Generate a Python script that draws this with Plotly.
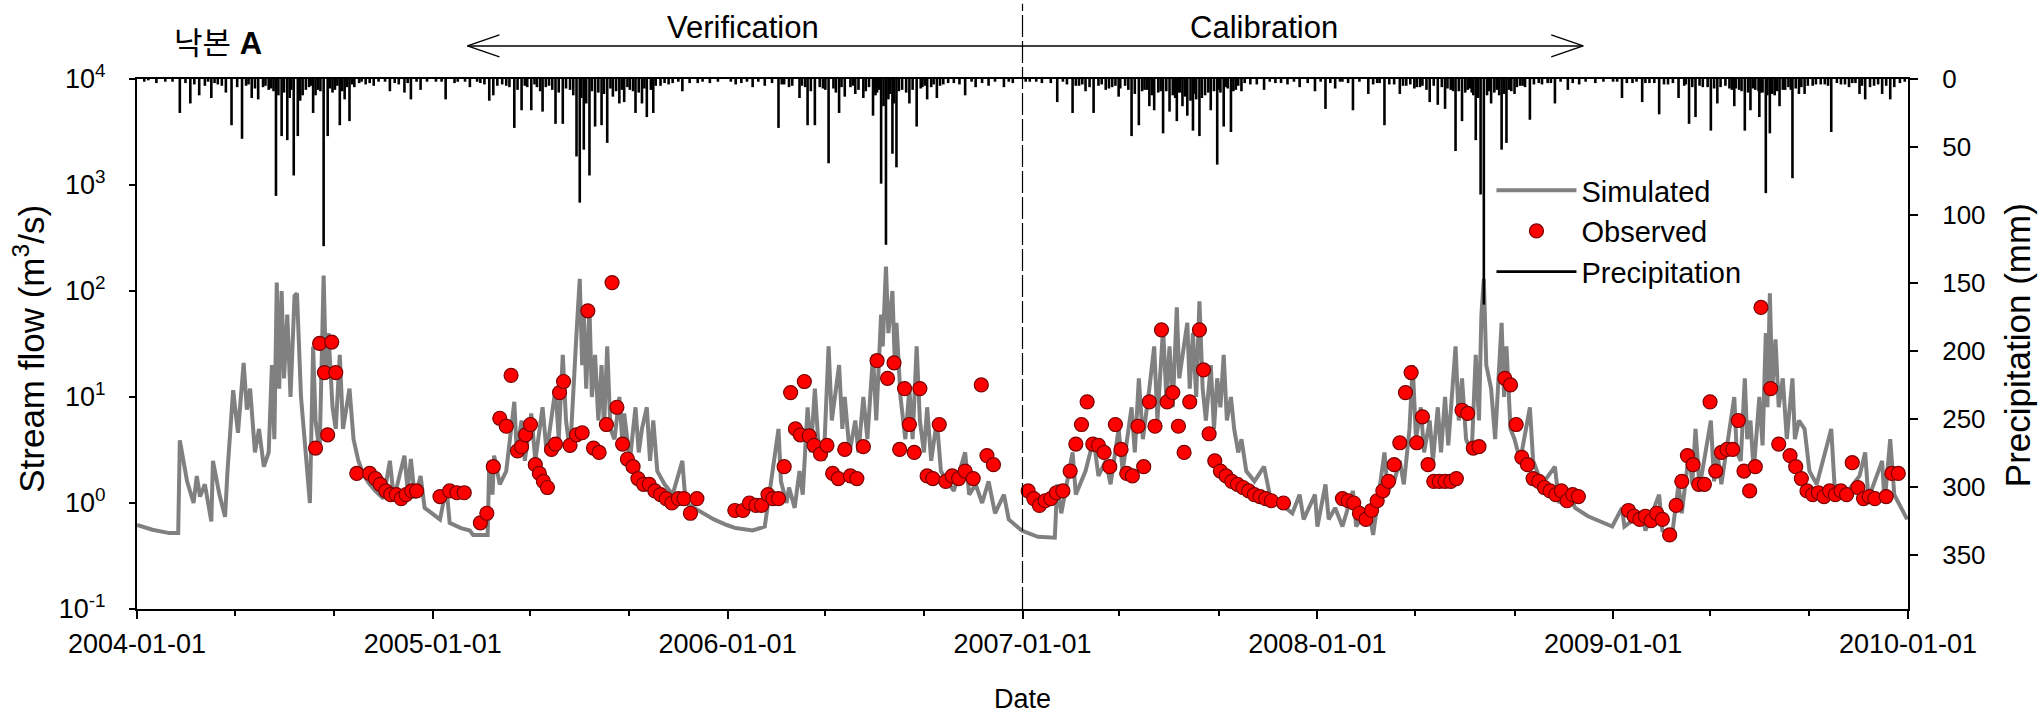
import plotly.graph_objects as go
import pandas as pd

# ---------------- data ----------------
sim_dates = [
 "2004-01-01","2004-01-20","2004-02-10","2004-02-21","2004-02-23","2004-03-03","2004-03-11","2004-03-15","2004-03-19","2004-03-25",
 "2004-04-02","2004-04-04","2004-04-12","2004-04-19","2004-04-22","2004-04-29","2004-05-05","2004-05-12","2004-05-16","2004-05-20",
 "2004-05-26","2004-05-31","2004-06-06","2004-06-12","2004-06-16","2004-06-19","2004-06-22","2004-06-25","2004-06-28","2004-07-01",
 "2004-07-05","2004-07-09","2004-07-14","2004-07-17","2004-07-22","2004-07-27","2004-08-02","2004-08-06","2004-08-09","2004-08-14",
 "2004-08-19","2004-08-22","2004-08-25","2004-08-30","2004-09-03","2004-09-08","2004-09-12","2004-09-20","2004-09-25","2004-10-01",
 "2004-10-08","2004-10-15","2004-10-22","2004-11-01","2004-11-09","2004-11-14","2004-11-27","2004-12-01","2004-12-05","2004-12-10",
 "2004-12-17","2004-12-22","2004-12-31",
 "2005-01-10","2005-01-18","2005-01-22","2005-02-05","2005-02-16","2005-02-20","2005-03-10","2005-03-12","2005-03-16","2005-03-18",
 "2005-03-25","2005-04-02","2005-04-12","2005-04-15","2005-04-21","2005-04-25","2005-05-03","2005-05-08","2005-05-17","2005-05-22",
 "2005-06-02","2005-06-06","2005-06-11","2005-06-15","2005-06-20","2005-06-28","2005-07-02","2005-07-05","2005-07-07","2005-07-10",
 "2005-07-14","2005-07-17","2005-07-21","2005-07-25","2005-07-29","2005-08-01","2005-08-05","2005-08-09","2005-08-14","2005-08-20",
 "2005-08-24","2005-08-26","2005-09-02","2005-09-09","2005-09-13","2005-09-17","2005-09-23","2005-09-27","2005-10-01","2005-10-06",
 "2005-10-15","2005-10-25","2005-11-06","2005-11-10","2005-11-20","2005-12-01","2005-12-15","2005-12-31",
 "2006-01-11","2006-02-01","2006-02-16","2006-03-05","2006-03-08","2006-03-15","2006-03-18","2006-03-25","2006-03-31","2006-04-04",
 "2006-04-10","2006-04-14","2006-04-19","2006-04-23","2006-04-30","2006-05-06","2006-05-10","2006-05-19","2006-05-23","2006-05-26",
 "2006-06-01","2006-06-08","2006-06-12","2006-06-18","2006-06-23","2006-06-30","2006-07-04","2006-07-10","2006-07-12","2006-07-16",
 "2006-07-19","2006-07-24","2006-07-27","2006-07-29","2006-08-03","2006-08-09","2006-08-14","2006-08-18","2006-08-23","2006-08-27",
 "2006-09-01","2006-09-05","2006-09-10","2006-09-17","2006-09-22","2006-09-30","2006-10-08","2006-10-22","2006-10-27","2006-11-04",
 "2006-11-12","2006-11-20","2006-11-28","2006-12-09","2006-12-15","2006-12-31",
 "2007-01-20","2007-02-10","2007-02-13","2007-02-18","2007-03-04","2007-03-08","2007-03-20","2007-03-30","2007-04-05","2007-04-14",
 "2007-04-20","2007-04-30","2007-05-05","2007-05-16","2007-05-20","2007-05-25","2007-05-30","2007-06-07","2007-06-13","2007-06-17",
 "2007-06-24","2007-06-28","2007-07-02","2007-07-06","2007-07-11","2007-07-14","2007-07-18","2007-07-24","2007-07-27","2007-07-31",
 "2007-08-04","2007-08-08","2007-08-12","2007-08-16","2007-08-22","2007-08-26","2007-08-30","2007-09-03","2007-09-07","2007-09-11",
 "2007-09-16","2007-09-20","2007-09-25","2007-09-29","2007-10-05","2007-10-15","2007-10-27","2007-11-03","2007-11-15","2007-12-01",
 "2007-12-10","2007-12-15","2007-12-29",
 "2008-01-01","2008-01-11","2008-01-15","2008-01-23","2008-02-01","2008-02-14","2008-02-18","2008-03-04","2008-03-10","2008-03-24",
 "2008-03-28","2008-04-05","2008-04-12","2008-04-17","2008-04-24","2008-04-28","2008-05-02","2008-05-08","2008-05-12","2008-05-19",
 "2008-05-23","2008-05-29","2008-06-02","2008-06-07","2008-06-11","2008-06-20","2008-06-24","2008-06-28","2008-07-03","2008-07-10",
 "2008-07-15","2008-07-19","2008-07-22","2008-07-25","2008-07-28","2008-08-03","2008-08-08","2008-08-16","2008-08-19","2008-08-22",
 "2008-08-27","2008-09-01","2008-09-08","2008-09-20","2008-09-24","2008-10-05","2008-10-21","2008-10-26","2008-11-06","2008-11-15",
 "2008-12-01","2008-12-31",
 "2009-01-12","2009-01-15","2009-02-06","2009-02-10","2009-02-27","2009-03-03","2009-03-15","2009-03-23","2009-03-27","2009-04-05",
 "2009-04-09","2009-04-13","2009-04-18","2009-05-02","2009-05-06","2009-05-10","2009-05-15","2009-05-31","2009-06-03","2009-06-08",
 "2009-06-13","2009-06-16","2009-06-20","2009-06-24","2009-07-01","2009-07-05","2009-07-09","2009-07-11","2009-07-14","2009-07-17",
 "2009-07-21","2009-07-25","2009-07-30","2009-08-04","2009-08-11","2009-08-14","2009-08-19","2009-08-26","2009-09-01","2009-09-10",
 "2009-09-28","2009-10-02","2009-10-15","2009-11-02","2009-11-09","2009-11-13","2009-11-30","2009-12-03","2009-12-10","2009-12-15",
 "2009-12-31",
]
sim_vals = [
 0.62,0.56,0.52,0.52,3.9,1.6,1.0,1.8,1.15,1.5,
 0.67,2.5,1.2,0.74,2.0,11.6,4.6,21,7.6,12,
 3.0,5.0,2.2,3.0,20,4,120,12,100,15,
 60,10,90,95,10,3.5,1.0,30,6,3,
 140,15,40,8,5,25,5,12,4,2.5,
 1.8,1.5,1.3,1.1,2.5,1.1,2.8,1.3,2.6,1.1,
 1.8,0.9,0.8,
 0.7,1.4,0.65,0.58,0.55,0.5,0.5,2.5,1.2,2.8,
 1.5,2.0,9,3,6,2.5,7,2.5,8,3,
 12,4,25,6,3,40,130,20,60,12,
 70,10,25,6,20,5,30,5,4,10,
 3.5,7,2.5,8,3,5,8,2.5,6,2,
 1.5,1.2,2.5,1.0,0.9,0.8,0.7,0.62,
 0.58,0.55,0.6,5,1.6,1.0,1.4,0.9,2.0,1.2,
 8,3,12,4,2.5,30,6,20,5,10,
 3,6,3,10,4,25,6,60,30,170,
 40,100,20,50,10,4,12,4,30,6,
 3,8,2.5,6,2,1.6,1.3,3,1.2,1.5,
 1.0,1.6,0.8,1.2,0.7,0.55,
 0.48,0.47,1.5,0.8,3,1.2,2,4,1.8,2.5,
 1.5,5,2,8,3,15,4,12,30,6,
 45,10,30,8,70,15,25,50,12,40,
 10,80,12,6,20,5,15,8,25,6,
 10,5,3,4,2,1.6,2.2,1.2,1.0,0.8,
 1.2,0.7,1.2,
 0.6,1.5,0.7,0.9,0.6,1.3,0.6,0.9,0.5,3,
 1.3,1.6,2.5,1.5,5,20,4,8,3,6,
 2.5,8,3,10,3.5,30,6,15,4,3,
 25,6,60,130,20,12,4,50,10,30,
 5,4,2.5,8,2.5,1.5,2.2,1.0,1.3,0.9,
 0.75,0.6,
 0.9,0.6,0.8,0.55,1.2,0.55,0.5,1.5,0.8,3,
 1.5,5,1.4,6,1.6,3,1.5,10,3,2.5,
 15,4,6,2,10,3.5,40,8,95,12,
 35,8,15,4,15,4,6,5,2,1.5,
 5,1.5,1.2,1.8,3,1.1,2.5,1.0,4,1.2,
 0.7,
]

obs_dates = [
 "2004-08-09","2004-08-14","2004-08-20","2004-08-24","2004-08-29","2004-09-03","2004-09-29","2004-10-15","2004-10-22","2004-10-28",
 "2004-11-04","2004-11-10","2004-11-17","2004-11-23","2004-11-29","2004-12-06","2004-12-12",
 "2005-01-10","2005-01-22","2005-01-31","2005-02-09","2005-03-01","2005-03-09","2005-03-17","2005-03-25","2005-04-02","2005-04-08",
 "2005-04-16","2005-04-21","2005-04-26","2005-05-02","2005-05-08","2005-05-13","2005-05-18","2005-05-23","2005-05-28","2005-06-02",
 "2005-06-07","2005-06-12","2005-06-20","2005-06-28","2005-07-05","2005-07-12","2005-07-19","2005-07-26","2005-08-04","2005-08-11",
 "2005-08-17","2005-08-24","2005-08-30","2005-09-06","2005-09-12","2005-09-19","2005-09-26","2005-10-03","2005-10-10","2005-10-17",
 "2005-10-24","2005-11-01","2005-11-08","2005-11-16","2005-11-24",
 "2006-01-10","2006-01-20","2006-01-28","2006-02-05","2006-02-12","2006-02-20","2006-02-26","2006-03-05","2006-03-12","2006-03-20",
 "2006-03-26","2006-04-01","2006-04-06","2006-04-12","2006-04-18","2006-04-26","2006-05-04","2006-05-11","2006-05-18","2006-05-26",
 "2006-06-02","2006-06-10","2006-06-18","2006-07-05","2006-07-18","2006-07-26","2006-08-02","2006-08-08","2006-08-14","2006-08-20",
 "2006-08-27","2006-09-05","2006-09-12","2006-09-20","2006-09-28","2006-10-06","2006-10-14","2006-10-22","2006-11-01","2006-11-11",
 "2006-11-18","2006-11-26",
 "2007-01-08","2007-01-15","2007-01-22","2007-01-29","2007-02-05","2007-02-12","2007-02-20","2007-03-01","2007-03-08","2007-03-15",
 "2007-03-22","2007-03-29","2007-04-05","2007-04-12","2007-04-19","2007-04-26","2007-05-03","2007-05-10","2007-05-17","2007-05-24",
 "2007-05-31","2007-06-07","2007-06-14","2007-06-22","2007-06-29","2007-07-06","2007-07-13","2007-07-20","2007-07-27","2007-08-08",
 "2007-08-13","2007-08-20","2007-08-27","2007-09-03","2007-09-10","2007-09-17","2007-09-24","2007-10-01","2007-10-08","2007-10-15",
 "2007-10-22","2007-10-29","2007-11-05","2007-11-20",
 "2008-02-01","2008-02-08","2008-02-15","2008-02-22","2008-03-01","2008-03-08","2008-03-15","2008-03-22","2008-03-29","2008-04-05",
 "2008-04-12","2008-04-19","2008-04-26","2008-05-03","2008-05-10","2008-05-17","2008-05-24","2008-05-31","2008-06-07","2008-06-14",
 "2008-06-21","2008-06-28","2008-07-05","2008-07-12","2008-07-19","2008-08-20","2008-08-27","2008-09-03","2008-09-10","2008-09-17",
 "2008-09-24","2008-10-01","2008-10-08","2008-10-15","2008-10-22","2008-10-29","2008-11-05","2008-11-12","2008-11-19",
 "2009-01-20","2009-01-27","2009-02-03","2009-02-10","2009-02-17","2009-02-24","2009-03-03","2009-03-12","2009-03-20","2009-03-27",
 "2009-04-03","2009-04-10","2009-04-17","2009-04-24","2009-05-01","2009-05-08","2009-05-15","2009-05-22","2009-05-29","2009-06-05",
 "2009-06-12","2009-06-19","2009-06-26","2009-07-03","2009-07-15","2009-07-25","2009-08-08","2009-08-15","2009-08-22","2009-08-29",
 "2009-09-05","2009-09-12","2009-09-19","2009-09-26","2009-10-03","2009-10-10","2009-10-17","2009-10-24","2009-10-31","2009-11-07",
 "2009-11-14","2009-11-21","2009-12-05","2009-12-12","2009-12-20",
]
obs_vals = [
 3.3,32,17,4.4,33,17,1.9,1.9,1.7,1.5,
 1.3,1.2,1.2,1.1,1.2,1.3,1.3,
 1.15,1.3,1.25,1.25,0.65,0.8,2.2,6.3,5.3,16,
 3.1,3.4,4.4,5.5,2.3,1.9,1.6,1.4,3.2,3.6,
 11,14,3.5,4.4,4.6,65,3.3,3.0,5.5,120,
 8,3.6,2.6,2.2,1.7,1.5,1.5,1.3,1.2,1.1,
 1.0,1.1,1.1,0.8,1.1,
 0.85,0.85,1.0,0.95,0.95,1.2,1.1,1.1,2.2,11,
 5,4.4,14,4.3,3.5,2.9,3.5,1.9,1.7,3.2,
 1.8,1.7,3.4,22,15,21,3.2,12,5.5,3.0,
 12,1.8,1.7,5.5,1.6,1.8,1.7,2.0,1.7,13,
 2.8,2.3,
 1.3,1.1,0.95,1.05,1.1,1.25,1.3,2.0,3.6,5.5,
 9,3.6,3.5,3.0,2.2,5.5,3.2,1.9,1.8,5.3,
 2.2,9,5.3,43,9,11,5.3,3.0,9,43,
 18,4.5,2.5,2.0,1.8,1.6,1.5,1.4,1.3,1.2,
 1.15,1.1,1.05,1.0,
 1.1,1.05,1.0,0.8,0.7,0.85,1.05,1.3,1.6,2.3,
 3.7,11,17,3.7,6.5,2.3,1.6,1.6,1.6,1.6,
 1.7,7.5,7.0,3.3,3.4,15,13,5.5,2.7,2.3,
 1.7,1.6,1.4,1.3,1.2,1.3,1.05,1.2,1.15,
 0.85,0.75,0.7,0.75,0.68,0.8,0.7,0.5,0.95,1.6,
 2.8,2.3,1.5,1.5,9,2.0,3.0,3.2,3.2,6,
 2.0,1.3,2.2,70,12,3.6,2.8,2.2,1.7,1.3,
 1.2,1.25,1.15,1.3,1.2,1.3,1.2,2.4,1.4,1.1,
 1.15,1.1,1.15,1.9,1.9,
]

pcp_dates = [
 "2004-01-10","2004-01-25","2004-02-05","2004-02-23","2004-03-07","2004-03-18","2004-03-25","2004-04-02","2004-04-10","2004-04-20",
 "2004-04-27","2004-05-10","2004-05-15","2004-05-22","2004-05-30","2004-06-05","2004-06-12","2004-06-15","2004-06-21","2004-06-28",
 "2004-07-01","2004-07-05","2004-07-13","2004-07-18","2004-07-24","2004-07-28","2004-08-01","2004-08-06","2004-08-12","2004-08-19",
 "2004-08-24","2004-08-30","2004-09-02","2004-09-08","2004-09-14","2004-09-20","2004-09-26","2004-10-02","2004-10-10","2004-10-20",
 "2004-11-09","2004-11-15","2004-11-27","2004-12-05","2004-12-17",
 "2005-01-05","2005-01-17","2005-02-01","2005-02-16","2005-03-01","2005-03-12","2005-03-17","2005-03-28","2005-04-02","2005-04-12",
 "2005-04-21","2005-04-28","2005-05-03","2005-05-10","2005-05-17","2005-05-25","2005-06-02","2005-06-11","2005-06-15","2005-06-20",
 "2005-06-28","2005-07-02","2005-07-07","2005-07-14","2005-07-21","2005-07-25","2005-07-29","2005-08-05","2005-08-12","2005-08-16",
 "2005-08-20","2005-08-26","2005-09-02","2005-09-09","2005-09-13","2005-09-17","2005-09-23","2005-09-28","2005-10-01","2005-10-10",
 "2005-10-15","2005-10-20","2005-11-06","2005-11-25","2005-12-10",
 "2006-01-11","2006-01-25","2006-02-01","2006-02-16","2006-02-25","2006-03-05","2006-03-12","2006-03-18","2006-03-31","2006-04-03",
 "2006-04-10","2006-04-19","2006-04-25","2006-05-06","2006-05-12","2006-05-19","2006-05-26","2006-06-02","2006-06-08","2006-06-18",
 "2006-06-25","2006-06-30","2006-07-01","2006-07-05","2006-07-10","2006-07-16","2006-07-24","2006-07-29","2006-08-05","2006-08-10",
 "2006-08-14","2006-08-23","2006-08-28","2006-09-05","2006-09-10","2006-09-17","2006-09-25","2006-10-08","2006-10-22","2006-11-04",
 "2006-11-20","2006-12-09","2006-12-20",
 "2007-01-10","2007-01-25","2007-02-13","2007-02-25","2007-03-04","2007-03-12","2007-03-20","2007-03-30","2007-04-05","2007-04-14",
 "2007-04-22","2007-04-30","2007-05-02","2007-05-08","2007-05-16","2007-05-25","2007-06-01","2007-06-07","2007-06-13","2007-06-18",
 "2007-06-24","2007-06-28","2007-07-02","2007-07-06","2007-07-11","2007-07-15","2007-07-18","2007-07-24","2007-07-31","2007-08-04",
 "2007-08-08","2007-08-15","2007-08-19","2007-08-22","2007-08-30","2007-09-03","2007-09-07","2007-09-12","2007-09-16","2007-09-22",
 "2007-09-29","2007-10-10","2007-10-27","2007-11-10","2007-11-25","2007-12-10","2007-12-29",
 "2008-01-11","2008-01-23","2008-02-01","2008-02-14","2008-03-04","2008-03-15","2008-03-24","2008-04-05","2008-04-12","2008-04-20",
 "2008-04-30","2008-05-03","2008-05-10","2008-05-19","2008-05-29","2008-06-03","2008-06-07","2008-06-14","2008-06-20","2008-06-24",
 "2008-06-28","2008-07-05","2008-07-10","2008-07-15","2008-07-21","2008-07-25","2008-07-29","2008-08-03","2008-08-07","2008-08-10",
 "2008-08-16","2008-08-22","2008-08-28","2008-09-01","2008-09-08","2008-09-14","2008-09-20","2008-10-05","2008-10-12","2008-10-21",
 "2008-11-06","2008-11-20","2008-12-10",
 "2009-01-01","2009-01-12","2009-01-25","2009-02-06","2009-02-15","2009-02-27","2009-03-10","2009-03-23","2009-03-30","2009-04-05",
 "2009-04-13","2009-04-22","2009-04-28","2009-05-02","2009-05-10","2009-05-20","2009-05-25","2009-05-31","2009-06-06","2009-06-13",
 "2009-06-20","2009-06-26","2009-06-30","2009-07-01","2009-07-05","2009-07-09","2009-07-14","2009-07-20","2009-07-26","2009-07-30",
 "2009-08-02","2009-08-06","2009-08-11","2009-08-19","2009-08-26","2009-09-05","2009-09-15","2009-09-20","2009-09-28","2009-10-10",
 "2009-10-20","2009-10-28","2009-11-02","2009-11-09","2009-11-20","2009-11-30","2009-12-10","2009-12-22",
 # smaller daily rain
 "2004-01-15","2004-02-14","2004-03-01","2004-03-12","2004-03-29","2004-04-06","2004-04-15","2004-05-04","2004-05-18","2004-05-26",
 "2004-06-08","2004-06-18","2004-06-24","2004-07-08","2004-07-10","2004-07-21","2004-08-03","2004-08-09","2004-08-15","2004-08-27",
 "2004-09-05","2004-09-11","2004-09-17","2004-09-23","2004-10-05","2004-10-15","2004-10-26","2004-11-03","2004-11-20","2004-12-01",
 "2004-12-12","2004-12-25",
 "2005-01-12","2005-01-28","2005-02-10","2005-02-25","2005-03-06","2005-03-22","2005-04-06","2005-04-16","2005-04-25","2005-05-07",
 "2005-05-14","2005-05-21","2005-05-29","2005-06-06","2005-06-24","2005-07-04","2005-07-10","2005-07-17","2005-08-01","2005-08-09",
 "2005-08-23","2005-08-30","2005-09-06","2005-09-20","2005-10-04","2005-10-25","2005-11-01","2005-11-15","2005-12-01","2005-12-20",
 "2006-01-05","2006-01-18","2006-02-08","2006-03-09","2006-03-22","2006-04-07","2006-04-14","2006-04-29","2006-05-02","2006-05-15",
 "2006-05-22","2006-06-05","2006-06-12","2006-06-21","2006-07-03","2006-07-07","2006-07-13","2006-07-19","2006-07-21","2006-07-26",
 "2006-08-01","2006-08-18","2006-08-30","2006-09-02","2006-09-13","2006-09-21","2006-10-01","2006-10-15","2006-10-30","2006-11-12",
 "2006-11-28","2006-12-15",
 "2007-01-05","2007-01-18","2007-02-05","2007-02-20","2007-03-08","2007-03-16","2007-03-25","2007-04-09","2007-04-18","2007-04-26",
 "2007-05-12","2007-05-20","2007-05-29","2007-06-04","2007-06-10","2007-06-21","2007-07-09","2007-07-13","2007-07-21","2007-07-28",
 "2007-08-02","2007-08-11","2007-08-26","2007-09-01","2007-09-10","2007-09-19","2007-09-25","2007-10-03","2007-10-18","2007-11-03",
 "2007-11-17","2007-12-03","2007-12-20",
 "2008-01-05","2008-01-17","2008-01-29","2008-02-08","2008-02-22","2008-03-10","2008-03-18","2008-03-30","2008-04-16","2008-04-25",
 "2008-05-07","2008-05-15","2008-05-24","2008-06-10","2008-06-17","2008-07-02","2008-07-08","2008-07-12","2008-07-18","2008-07-31",
 "2008-08-13","2008-08-19","2008-08-25","2008-09-04","2008-09-11","2008-09-25","2008-10-01","2008-10-16","2008-10-28","2008-11-12",
 "2008-11-28","2008-12-20",
 "2009-01-06","2009-01-18","2009-01-30","2009-02-10","2009-02-21","2009-03-05","2009-03-16","2009-04-01","2009-04-09","2009-04-18",
 "2009-05-06","2009-05-14","2009-05-28","2009-06-02","2009-06-09","2009-06-17","2009-06-23","2009-07-03","2009-07-11","2009-07-17",
 "2009-07-23","2009-08-09","2009-08-15","2009-08-22","2009-08-30","2009-09-09","2009-09-24","2009-10-05","2009-10-15","2009-10-24",
 "2009-11-05","2009-11-15","2009-11-25","2009-12-05","2009-12-15","2009-12-28",
]
pcp_mm = [
 2,3,2,25,18,12,5,14,4,10,
 34,44,5,14,15,6,8,7,86,42,
 10,45,71,42,12,8,6,25,8,123,
 42,10,8,34,15,31,6,3,4,5,
 9,3,10,15,8,
 2,15,2,6,3,16,12,4,5,36,
 23,6,23,6,24,5,33,33,7,8,
 57,91,52,71,35,10,34,47,13,9,
 18,17,8,25,10,18,28,8,25,5,
 3,4,9,3,3,
 4,2,6,5,3,36,4,6,14,5,
 34,34,6,62,7,25,13,6,11,14,
 6,27,9,10,77,122,55,65,8,10,
 18,35,7,15,6,14,4,3,12,6,
 5,6,3,
 2,3,17,4,25,5,9,25,5,8,
 6,13,7,5,42,34,8,20,23,10,
 40,9,24,12,31,10,20,27,38,15,
 42,12,10,23,63,10,35,7,39,8,
 9,4,8,3,4,6,9,
 22,7,2,23,11,3,34,4,11,5,
 7,6,5,17,19,6,22,8,53,9,
 31,8,10,45,85,166,12,18,10,8,
 52,47,9,11,5,6,30,4,3,18,
 8,4,3,
 2,14,3,17,3,26,4,14,5,33,
 28,6,6,38,18,5,7,20,8,38,
 23,8,9,28,10,84,40,12,20,8,
 8,6,73,11,11,5,4,4,39,4,
 6,3,11,15,5,11,15,3,
 1,2,3,4,2,3,5,6,4,7,
 5,9,12,14,8,16,5,12,9,7,
 5,9,6,4,2,3,2,2,4,3,
 2,2,
 2,3,2,2,4,5,6,8,5,4,
 9,6,8,10,12,14,18,9,11,7,
 8,6,9,7,5,3,2,3,2,2,
 2,3,2,4,5,6,9,7,8,10,
 6,5,8,9,12,8,20,15,11,18,
 9,8,6,5,4,5,3,4,2,3,
 2,2,
 2,2,3,2,5,4,6,4,7,5,
 8,11,9,8,12,9,14,10,13,16,
 11,14,9,8,6,9,5,3,4,2,
 3,2,3,
 2,3,2,3,2,4,3,4,5,4,
 6,8,5,7,9,10,7,12,14,9,
 12,11,8,6,5,4,3,3,2,3,
 2,2,
 2,3,2,3,3,4,3,4,6,5,
 7,6,8,7,9,10,7,10,12,11,
 9,8,7,6,5,4,5,3,4,3,
 5,6,4,5,6,2,
]

y_tick_vals = [0.1, 1, 10, 100, 1000, 10000]
y_tick_text = ["10<sup>-1</sup>", "10<sup>0</sup>", "10<sup>1</sup>", "10<sup>2</sup>", "10<sup>3</sup>", "10<sup>4</sup>"]
p_tick_vals = [0, 50, 100, 150, 200, 250, 300, 350]
x_range = ["2004-01-01", "2010-01-01"]
split_date = "2007-01-01"
verif_arrow_start = "2005-02-13"
calib_arrow_end = "2008-11-25"
verif_label_date = "2006-01-20"
calib_label_date = "2007-10-27"

# ---------------- build ----------------
sim = pd.DataFrame({"d": pd.to_datetime(sim_dates), "v": sim_vals}).sort_values("d")
obs = pd.DataFrame({"d": pd.to_datetime(obs_dates), "v": obs_vals}).sort_values("d")

px_, py_ = [], []
for d, v in zip(pcp_dates, pcp_mm):
    px_ += [d, d, None]
    py_ += [0, v, None]

FONT = "Arial, 'Liberation Sans', 'Noto Sans CJK KR', sans-serif"

fig = go.Figure()
fig.add_trace(go.Scatter(x=sim["d"], y=sim["v"], mode="lines", name="Simulated",
                         line=dict(color="#808080", width=4)))
fig.add_trace(go.Scatter(x=obs["d"], y=obs["v"], mode="markers", name="Observed",
                         marker=dict(color="#FF0000", size=14, line=dict(color="#7a0000", width=1.2))))
fig.add_trace(go.Scatter(x=px_, y=py_, mode="lines", name="Precipitation", yaxis="y2",
                         line=dict(color="black", width=2.6), connectgaps=False))

fig.update_layout(
    width=2041, height=722,
    margin=dict(l=137, r=133, t=79, b=113, autoexpand=False),
    paper_bgcolor="white", plot_bgcolor="white",
    font=dict(family=FONT, color="black", size=26),
    showlegend=True,
    legend=dict(x=0.7648, y=0.838, xanchor="left", yanchor="top",
                font=dict(size=29), bgcolor="rgba(0,0,0,0)", itemwidth=80,
                tracegroupgap=0, traceorder="normal"),
    xaxis=dict(type="date", range=x_range, tick0="2004-01-01", dtick="M12",
               tickformat="%Y-%m-%d", ticks="outside", ticklen=8, tickwidth=2,
               tickcolor="black", showline=True, linewidth=2, linecolor="black",
               mirror=True, showgrid=False, zeroline=False, automargin=False,
               tickfont=dict(size=27), ticklabelstandoff=2,
               minor=dict(dtick="M4", tick0="2004-01-01", ticks="outside", ticklen=5,
                          tickwidth=1.5, tickcolor="black", showgrid=False)),
    yaxis=dict(type="log", range=[-1, 4], tickvals=y_tick_vals, ticktext=y_tick_text,
               ticks="outside", ticklen=6, tickwidth=2, tickcolor="black",
               showline=True, linewidth=2, linecolor="black", showgrid=False,
               zeroline=False, automargin=False, tickfont=dict(size=27), ticklabelstandoff=18),
    yaxis2=dict(overlaying="y", side="right", range=[390, 0], tickvals=p_tick_vals,
                ticks="outside", ticklen=8, tickwidth=2, tickcolor="black",
                showline=True, linewidth=2, linecolor="black", showgrid=False,
                zeroline=False, automargin=False, tickfont=dict(size=26), ticklabelstandoff=19),
)

def txt(size):
    return dict(family=FONT, size=size, color="black")

fig.add_annotation(text="Stream flow (m<sup>3</sup>/s)", xref="paper", yref="paper",
                   x=-0.0607, y=0.49, textangle=-90, xanchor="center", yanchor="middle",
                   showarrow=False, font=txt(35))
fig.add_annotation(text="Precipitation (mm)", xref="paper", yref="paper",
                   x=1.0616, y=0.498, textangle=-90, xanchor="center", yanchor="middle",
                   showarrow=False, font=txt(35))
fig.add_annotation(text="Date", xref="paper", yref="paper", x=0.5, y=-0.17,
                   xanchor="center", yanchor="middle", showarrow=False, font=txt(27))
fig.add_annotation(text="<span style='font-family:Noto Sans CJK KR'>낙본</span> <b>A</b>",
                   xref="paper", yref="paper", x=0.0198, y=1.0717,
                   xanchor="left", yanchor="middle", showarrow=False, font=txt(31))
fig.add_annotation(text="Verification", xref="x", yref="paper", x=verif_label_date, y=1.098,
                   xanchor="center", yanchor="middle", showarrow=False, font=txt(31))
fig.add_annotation(text="Calibration", xref="x", yref="paper", x=calib_label_date, y=1.098,
                   xanchor="center", yanchor="middle", showarrow=False, font=txt(31))

arrow_y = 1.0623
thin = dict(color="black", width=1.3)
fig.add_shape(type="line", xref="x", yref="paper", x0=split_date, x1=split_date, y0=0, y1=1.142,
              line=dict(color="black", width=1.2, dash="22px,4px"))
fig.add_shape(type="line", xref="x", yref="paper", x0=verif_arrow_start, x1=calib_arrow_end,
              y0=arrow_y, y1=arrow_y, line=thin)
for tip, sx in ((verif_arrow_start, 1), (calib_arrow_end, -1)):
    for sy in (1, -1):
        fig.add_shape(type="line", xref="x", yref="paper", xsizemode="pixel", ysizemode="pixel",
                      xanchor=tip, yanchor=arrow_y, x0=0, x1=32 * sx, y0=0, y1=11 * sy, line=thin)

fig.write_html("out.html", config={"displayModeBar": False},
               post_script="document.body.style.margin='0px';document.body.style.padding='0px';")
